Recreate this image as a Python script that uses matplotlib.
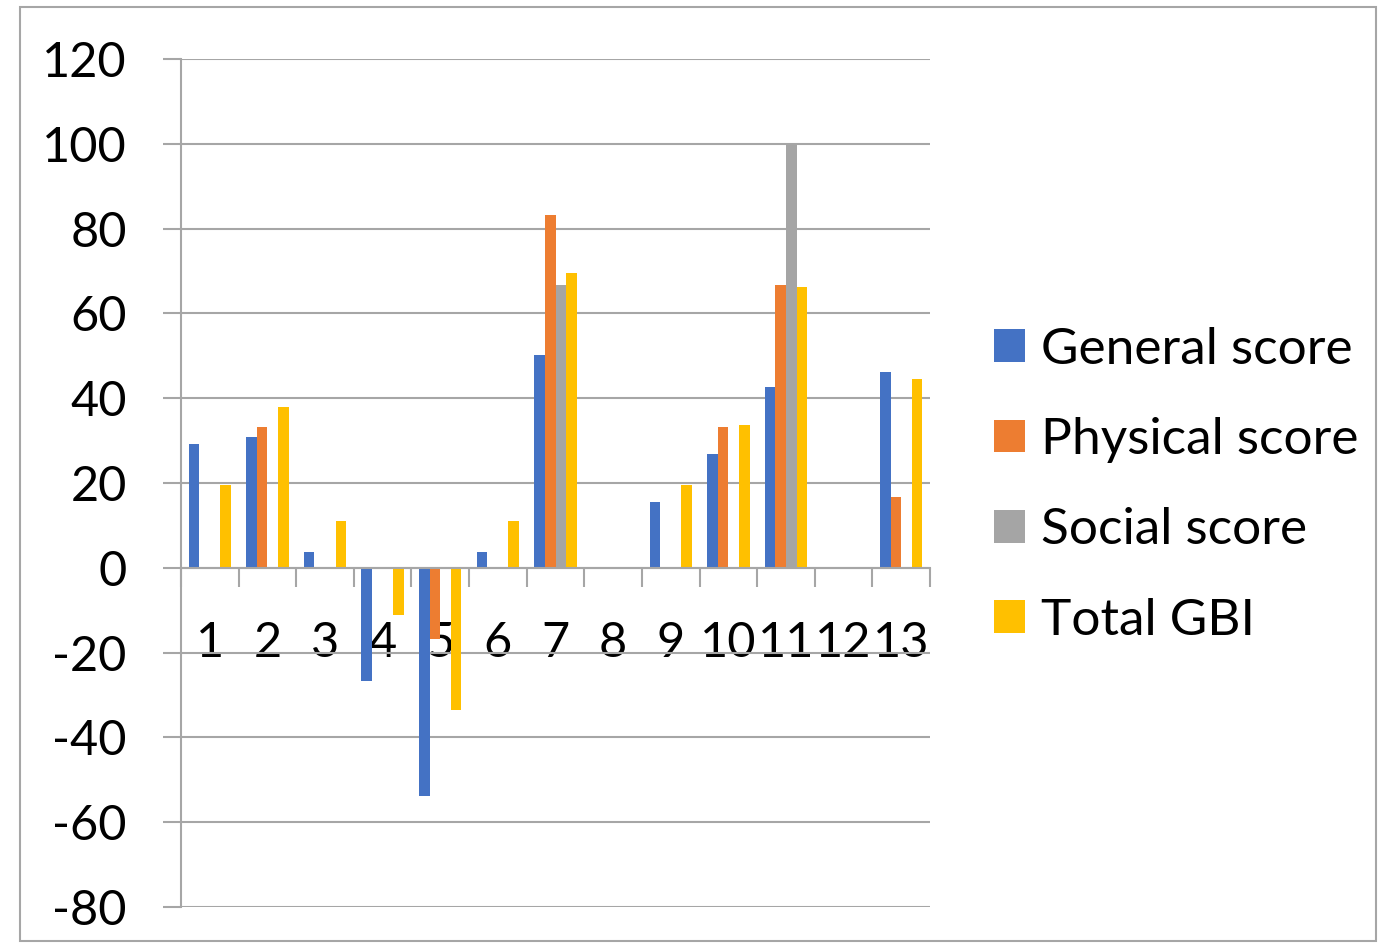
import matplotlib.pyplot as plt
import numpy as np
from matplotlib.patches import Rectangle

# values
categories = ["1", "2", "3", "4", "5", "6", "7", "8", "9", "10", "11", "12", "13"]
general = [29.2, 30.8, 3.8, -26.7, -53.8, 3.8, 50.1, 0, 15.5, 26.9, 42.6, 0, 46.1]
physical = [0, 33.2, 0, 0, -16.7, 0, 83.2, 0, 0, 33.3, 66.7, 0, 16.7]
social = [0, 0, 0, 0, 0, 0, 66.7, 0, 0, 0, 100, 0, 0]
total_gbi = [19.5, 38.0, 11.0, -11.1, -33.5, 11.0, 69.5, 0, 19.5, 33.6, 66.3, 0, 44.5]

series = [
    ("General score", general, "#4472C4"),
    ("Physical score", physical, "#ED7D31"),
    ("Social score", social, "#A5A5A5"),
    ("Total GBI", total_gbi, "#FFC000"),
]

plt.rcParams['font.family'] = ['Lato', 'DejaVu Sans']
plt.rcParams['axes.unicode_minus'] = False
fs = 35

fig = plt.figure(figsize=(13.78, 9.44), dpi=100)
ax = fig.add_axes([181/1378, 1 - 907/944, (930-181)/1378, (907-59)/944])

x = np.arange(1, len(categories) + 1)
w = 0.184
for i, (name, vals, col) in enumerate(series):
    ax.bar(x + (i - 1.5) * w, vals, w, color=col, label=name, zorder=3)

ax.set_xlim(0.5, len(categories) + 0.5)
ax.set_ylim(-80, 120)
ax.set_yticks(np.arange(-80, 121, 20))
ax.yaxis.grid(True, color="#A6A6A6", lw=1.5, zorder=0)
ax.tick_params(axis="y", labelsize=fs, length=13, width=1.5, color="#A6A6A6", pad=26)

for s in ["top", "right"]:
    ax.spines[s].set_visible(False)
ax.spines["left"].set_color("#A6A6A6")
ax.spines["left"].set_linewidth(1.5)
ax.spines["bottom"].set_position(("data", 0))
ax.spines["bottom"].set_color("#A6A6A6")
ax.spines["bottom"].set_linewidth(1.5)
ax.spines["bottom"].set_zorder(4)

ax.set_xticks(x)
ax.set_xticklabels(categories)
ax.tick_params(axis="x", which="major", length=0, labelsize=fs, pad=38)
ax.set_xticks(np.arange(0.5, len(categories) + 1), minor=True)
ax.tick_params(axis="x", which="minor", length=14, width=1.5, color="#A6A6A6", direction="out")
for lab in ax.get_xticklabels():
    lab.set_zorder(5)

ax.legend(loc="center left", bbox_to_anchor=(0.688, 0.486), bbox_transform=fig.transFigure,
          frameon=False, fontsize=37, handlelength=0.6, handleheight=0.6,
          handletextpad=0.3, labelspacing=0.86)

# chart frame
fig.patches.append(Rectangle((20/1378, 3/944), 1356/1378, 934/944, transform=fig.transFigure,
                             fill=False, edgecolor="#A6A6A6", lw=1.5))

fig.savefig("out.png", dpi=100)
